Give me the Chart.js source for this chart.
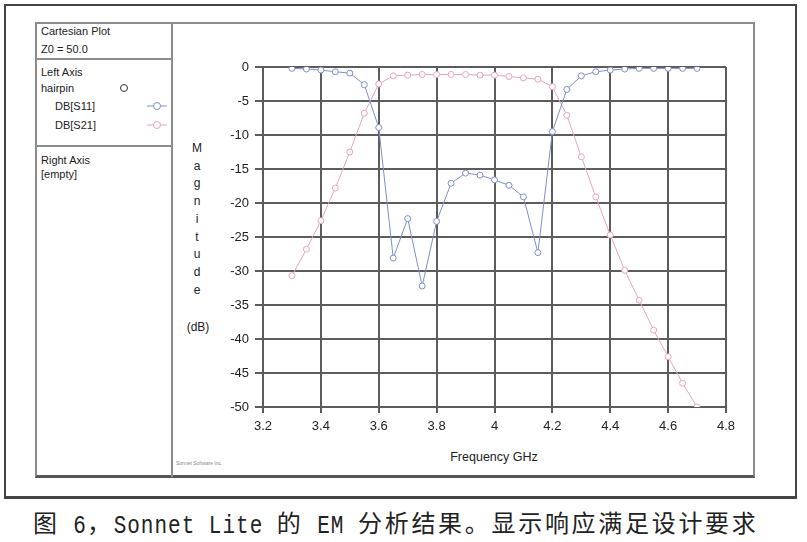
<!DOCTYPE html>
<html>
<head>
<meta charset="utf-8">
<title>Sonnet Lite - Cartesian Plot</title>
<script src="https://cdn.jsdelivr.net/npm/chart.js@4.4.1/dist/chart.umd.min.js"></script>
<style>
    html, body {
        margin: 0;
        padding: 0;
        background: #ffffff;
    }
    body {
        width: 807px;
        height: 542px;
        position: relative;
        overflow: hidden;
        font-family: "Liberation Sans", Arial, sans-serif;
        color: #222;
    }
    .box {
        position: absolute;
        box-sizing: border-box;
    }
    .txt {
        position: absolute;
        font-size: 11px;
        line-height: 13px;
        white-space: nowrap;
        color: #222;
    }
    .caption {
        font-family: "Noto Sans CJK SC", sans-serif;
        font-size: 24px;
        line-height: 32px;
        letter-spacing: 2.7px;
        color: #222;
    }
    .caption .lat {
        font-family: "Liberation Mono", monospace;
        font-size: 21px;
        letter-spacing: 1px;
        display: inline-block;
        transform: scaleY(1.2);
    }
    #plot {
        position: absolute;
        left: 0;
        top: 0;
        z-index: 2;
    }
</style>
</head>
<body>

<!-- frames -->
<div class="box" style="left:4px; top:4px; width:793px; height:495px; border:2px solid #444; border-bottom-width:3px;"></div>
<div class="box" style="left:35px; top:22px; width:720px; height:456px; border:2px solid #8c8c8c; border-bottom:3px solid #555;"></div>
<div class="box" style="left:171px; top:22px; width:2px; height:455px; background:#8c8c8c;"></div>
<div class="box" style="left:35px; top:58px; width:137px; height:2px; background:#8c8c8c;"></div>
<div class="box" style="left:35px; top:145px; width:137px; height:2px; background:#8c8c8c;"></div>

<!-- left info panel -->
<div class="txt" style="left:41px; top:25px;">Cartesian Plot</div>
<div class="txt" style="left:41px; top:43px;">Z0 = 50.0</div>
<div class="txt" style="left:41px; top:66px;">Left Axis</div>
<div class="txt" style="left:41px; top:82px;">hairpin</div>
<svg class="box" style="left:118px; top:82px;" width="12" height="12"><circle cx="6" cy="6" r="3.5" fill="#fff" stroke="#333" stroke-width="1"/></svg>
<div class="txt" style="left:55px; top:100px;">DB[S11]</div>
<svg class="box" style="left:146px; top:100px;" width="22" height="12"><line x1="1" y1="6" x2="21" y2="6" stroke="#7f8ecb" stroke-width="1"/><circle cx="11" cy="6" r="3.5" fill="#fff" stroke="#7f8ecb" stroke-width="1"/></svg>
<div class="txt" style="left:55px; top:119px;">DB[S21]</div>
<svg class="box" style="left:146px; top:119px;" width="22" height="12"><line x1="1" y1="6" x2="21" y2="6" stroke="#e8a2c4" stroke-width="1"/><circle cx="11" cy="6" r="3.5" fill="#fff" stroke="#e8a2c4" stroke-width="1"/></svg>
<div class="txt" style="left:41px; top:154px;">Right Axis</div>
<div class="txt" style="left:41px; top:168px;">[empty]</div>

<!-- axis titles -->
<div class="txt" style="left:189px; top:140px; width:16px; text-align:center; font-size:12px; line-height:17.7px; white-space:normal;">M<br>a<br>g<br>n<br>i<br>t<br>u<br>d<br>e</div>
<div class="txt" style="left:180px; top:319px; width:36px; text-align:center; font-size:12px; line-height:16px;">(dB)</div>
<div class="txt" style="left:434px; top:449px; width:120px; text-align:center; font-size:12.5px; line-height:16px;">Frequency GHz</div>
<div class="txt" style="left:176px; top:460px; font-size:5px; line-height:6px; color:#888;">Sonnet Software Inc.</div>

<!-- caption -->
<div class="txt caption" style="left:33px; top:506px;">图<span class="lat">&nbsp;6</span>，<span class="lat">Sonnet Lite&nbsp;</span>的<span class="lat">&nbsp;EM&nbsp;</span>分析结果。显示响应满足设计要求</div>

<canvas id="plot" width="807" height="542"></canvas>

<script>
// Frequency sweep points (GHz)
const freqGHz = [3.3, 3.35, 3.4, 3.45, 3.5, 3.55, 3.6, 3.65, 3.7, 3.75,
                 3.8, 3.85, 3.9, 3.95, 4.0, 4.05, 4.1, 4.15, 4.2, 4.25,
                 4.3, 4.35, 4.4, 4.45, 4.5, 4.55, 4.6, 4.65, 4.7];

// DB[S11] (dB)
const dbS11 = [-0.2, -0.3, -0.45, -0.7, -0.9, -2.6, -8.9, -28.1, -22.3, -32.2,
               -22.7, -17.1, -15.6, -15.9, -16.6, -17.4, -19.1, -27.3, -9.5, -3.3,
               -1.3, -0.7, -0.45, -0.3, -0.2, -0.2, -0.2, -0.2, -0.2];

// DB[S21] (dB)
const dbS21 = [-30.7, -26.8, -22.6, -17.8, -12.5, -6.8, -2.5, -1.3, -1.2, -1.1,
               -1.1, -1.1, -1.1, -1.2, -1.2, -1.4, -1.6, -1.8, -2.9, -7.1,
               -13.2, -19.1, -24.7, -29.9, -34.3, -38.7, -42.6, -46.5, -50.0];

// Axis ranges / tick steps
const xRange = [3.2, 4.8];
const xStep = 0.2;
const yRange = [-50, 0];
const yStep = 5;

const S11_COLOR = '#7f8ecb';
const S21_COLOR = '#e8a2c4';
const GRID_COLOR = '#5c5c5c';

/**
 * Turn two parallel arrays into {x, y} points
 */
function toPoints(xs, ys) {
    return xs.map((x, i) => ({ x: x, y: ys[i] }));
}

function makeDataset(label, values, color) {
    return {
        label: label,
        data: toPoints(freqGHz, values),
        borderColor: color,
        backgroundColor: '#ffffff',
        borderWidth: 1,
        pointRadius: 3,
        pointBorderWidth: 1,
        pointBackgroundColor: '#ffffff',
        pointBorderColor: color,
        tension: 0,
        fill: false
    };
}

const tickFont = { family: '"Liberation Sans", Arial, sans-serif', size: 13 };

const ctx = document.getElementById('plot').getContext('2d');

const chart = new Chart(ctx, {
    type: 'line',
    data: {
        datasets: [
            makeDataset('DB[S11]', dbS11, S11_COLOR),
            makeDataset('DB[S21]', dbS21, S21_COLOR)
        ]
    },
    options: {
        responsive: false,
        animation: false,
        devicePixelRatio: 1,
        layout: {
            padding: { left: 0, top: 67, right: 81, bottom: 0 }
        },
        plugins: {
            legend: { display: false },
            title: { display: false },
            tooltip: { enabled: false }
        },
        scales: {
            x: {
                type: 'linear',
                min: xRange[0],
                max: xRange[1],
                afterFit: function(scale) { scale.height = 135; },
                ticks: {
                    stepSize: xStep,
                    color: '#222',
                    font: tickFont,
                    padding: 6,
                    maxRotation: 0,
                    callback: function(value) {
                        return String(Number(value.toFixed(1)));
                    }
                },
                grid: {
                    color: GRID_COLOR,
                    lineWidth: 2,
                    tickLength: 6,
                    drawTicks: true
                },
                border: { color: GRID_COLOR, width: 2 }
            },
            y: {
                type: 'linear',
                min: yRange[0],
                max: yRange[1],
                afterFit: function(scale) { scale.width = 263; },
                ticks: {
                    stepSize: yStep,
                    color: '#222',
                    font: tickFont,
                    padding: 6,
                    callback: function(value) { return String(value); }
                },
                grid: {
                    color: GRID_COLOR,
                    lineWidth: 2,
                    tickLength: 8,
                    drawTicks: true
                },
                border: { color: GRID_COLOR, width: 2 }
            }
        }
    }
});

console.log('chart area', chart.chartArea);
</script>
</body>
</html>
